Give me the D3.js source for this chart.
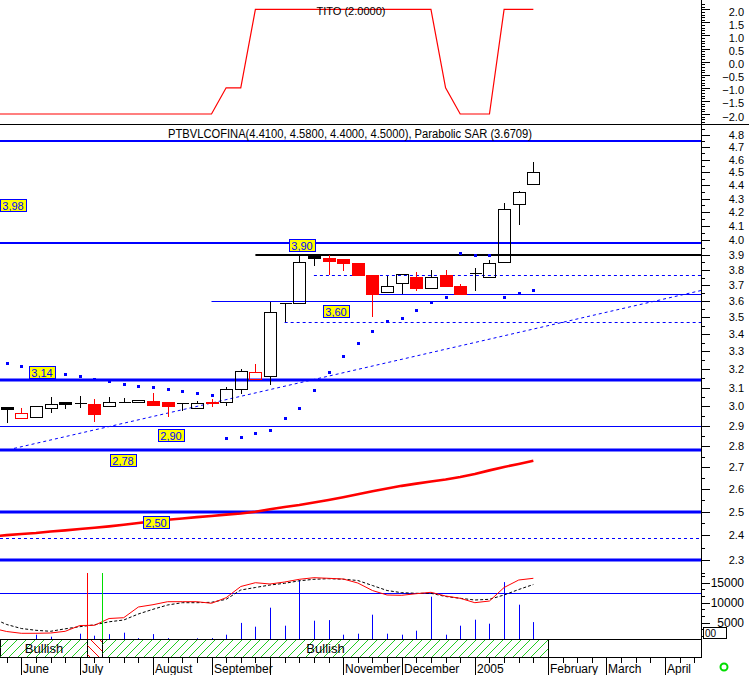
<!DOCTYPE html>
<html>
<head>
<meta charset="utf-8">
<script src="https://cdn.jsdelivr.net/npm/d3@7/dist/d3.min.js"></script>
<style>
body { margin: 0; background: #fff; }
svg { display: block; font-family: "Liberation Sans", Arial, sans-serif; }
</style>
</head>
<body>
<div id="chart"></div>
<script>
// weekly candles, week 0 = last week of May 2004
var opens  = [2.998, 2.939, 2.948, 2.991, 3.021, 3.017, 3.012, 3.001, 3.022, 3.022, 3.027, 3.022, 3.016, 2.991, 3.024, 3.022, 3.091, 3.146, 3.161, 3.589, 3.589, 3.891, 3.877, 3.873, 3.847, 3.767, 3.656, 3.713, 3.752, 3.681, 3.767, 3.696, 3.782, 3.752, 3.850, 4.257, 4.41];
var highs  = [2.998, 2.992, 3.001, 3.048, 3.021, 3.057, 3.039, 3.048, 3.045, 3.036, 3.070, 3.022, 3.016, 3.027, 3.038, 3.102, 3.200, 3.229, 3.597, 3.589, 3.904, 3.891, 3.900, 3.873, 3.847, 3.767, 3.763, 3.771, 3.785, 3.800, 3.800, 3.707, 3.815, 3.866, 4.269, 4.359, 4.58];
var lows   = [2.914, 2.939, 2.948, 2.968, 2.986, 2.991, 2.922, 3.001, 3.022, 3.022, 3.006, 2.944, 2.975, 2.986, 2.996, 3.003, 3.064, 3.146, 3.112, 3.471, 3.589, 3.828, 3.767, 3.795, 3.767, 3.505, 3.650, 3.645, 3.666, 3.681, 3.698, 3.645, 3.666, 3.752, 3.850, 4.107, 4.40];
var closes = [2.989, 2.968, 3.001, 3.012, 3.015, 3.017, 2.960, 3.022, 3.022, 3.036, 3.006, 3.003, 3.016, 3.020, 3.016, 3.091, 3.189, 3.185, 3.531, 3.589, 3.850, 3.877, 3.861, 3.848, 3.767, 3.643, 3.698, 3.771, 3.685, 3.752, 3.698, 3.645, 3.782, 3.844, 4.221, 4.349, 4.50];
var sar    = [3.233, 3.216, 3.200, 3.186, 3.172, 3.161, 3.148, 3.134, 3.119, 3.110, 3.102, 3.091, 3.080, 3.070, 3.059, 2.839, 2.846, 2.864, 2.881, 2.941, 2.991, 3.085, 3.185, 3.272, 3.347, 3.417, 3.477, 3.495, 3.543, 3.592, 3.624, 3.911, 3.900, 3.900, 3.628, 3.649, 3.671];
var volume = [500, 800, 1950, 1450, 800, 2200, 1700, 2100, 2450, 1100, 2100, 1100, 800, 1050, 1100, 1950, 4900, 3950, 8700, 4200, 15600, 5450, 5600, 1950, 2200, 6950, 2200, 1950, 2950, 11450, 1950, 4200, 5700, 4700, 15100, 9450, 5100];

// these start one week earlier (week -1)
var maLong  = [2.396, 2.401, 2.406, 2.410, 2.416, 2.421, 2.427, 2.432, 2.438, 2.445, 2.452, 2.459, 2.466, 2.471, 2.477, 2.482, 2.488, 2.493, 2.500, 2.511, 2.521, 2.530, 2.541, 2.552, 2.564, 2.577, 2.591, 2.603, 2.615, 2.625, 2.635, 2.644, 2.655, 2.669, 2.686, 2.702, 2.716, 2.731];
var volFast = [3600, 2750, 2300, 2300, 2375, 2800, 4250, 4300, 6000, 6200, 8875, 9450, 10200, 10200, 10200, 9800, 11200, 14000, 14950, 14625, 15125, 15800, 16200, 16050, 15875, 14875, 13000, 11875, 11800, 12200, 12550, 11625, 11050, 9950, 10375, 13750, 15625, 16050];
var volSlow = [6100, 4500, 3500, 3050, 2800, 3425, 3950, 4425, 5175, 5625, 7125, 8300, 9375, 9950, 9950, 10050, 10800, 13125, 13750, 14375, 14800, 15425, 15800, 15950, 15825, 15500, 14250, 13000, 12450, 12300, 12300, 11500, 11050, 10625, 10800, 11875, 13250, 14500];
var tito    = [-2, -2, -2, -2, -2, -2, -2, -2, -2, -2, -2, -2, -2, -2, -2, -2, -1, -1, 2, 2, 2, 2, 2, 2, 2, 2, 2, 2, 2, 2, 2, -1, -2, -2, -2, 2, 2, 2];
var volAvgLevel = 12300;

// horizontal price levels
var levelPrices = [4.75, 3.98, 3.90, 3.767, 3.643, 3.60, 3.471, 3.14, 2.90, 2.78, 2.50, 2.39, 2.30];
var levelStart  = [-1, -1, 17, 21, 25, 14, 19, -1, -1, -1, -1, -1, -1];
var levelKind   = ["thin2", "thin2", "black", "dash", "thin", "thin", "dash", "thick", "thin", "thick", "thick", "dash", "thick"];

// price tags
var tagText   = ["3,98", "3,90", "3,60", "3,14", "2,90", "2,78", "2,50"];
var tagWeek   = [0.43, 20.18, 22.51, 2.39, 11.25, 7.97, 10.2];
var tagPrice  = [4.25, 3.971, 3.542, 3.183, 2.857, 2.735, 2.457];

// trend line anchors
var trendWeek  = [0.5, 47.46];
var trendPrice = [2.79, 3.667];

// signal band
var signalFrom = [-1, 5.5, 6.5];
var signalTo   = [5.5, 6.5, 37];
var signalType = ["Bullish", "Bearish", "Bullish"];

// time axis
var monthNames = ["June", "July", "August", "September", "October", "November", "December", "2005", "February", "March", "April"];
var monthWeeks = [1, 5, 10, 14, 18, 23, 27, 32, 37, 41, 45];
var lastTickWeek = 47;

var W = 749, H = 675, plotR = 701;
var svg = d3.select("#chart").append("svg").attr("width", W).attr("height", H);
var defs = svg.append("defs");
defs.append("clipPath").attr("id", "plot").append("rect")
    .attr("x", 0).attr("y", 0).attr("width", plotR).attr("height", 657);

var gp = defs.append("pattern").attr("id", "hatchG").attr("patternUnits", "userSpaceOnUse")
    .attr("width", 9).attr("height", 9);
gp.append("path").attr("d", "M0,9L9,0M-3,3L3,-3M6,12L12,6").attr("stroke", "#22cc22").attr("stroke-width", 1);
var rp = defs.append("pattern").attr("id", "hatchR").attr("patternUnits", "userSpaceOnUse")
    .attr("width", 9).attr("height", 9);
rp.append("path").attr("d", "M0,0L9,9M-3,6L3,12M6,-3L12,3").attr("stroke", "#ff0000").attr("stroke-width", 1);

function px(v) { return Math.round(v) + 0.5; }

//
// Scales
//
var x = d3.scaleLinear().domain([-0.458, 47.46]).range([0, plotR]);
var yTop = d3.scaleLinear().domain([-2, 2]).range([114, 9.3]);
var y = d3.scaleLog().domain([2.2527, 4.892]).range([572, 124]);
var yVol = d3.scaleLinear().domain([0, 15000]).range([642.5, 582.5]);

var plot = svg.append("g").attr("clip-path", "url(#plot)");

// top panel: TITO
plot.append("path")
    .datum(tito)
    .attr("fill", "none").attr("stroke", "#ff0000").attr("stroke-width", 1.2)
    .attr("d", d3.line().x(function(d, k) { return x(k - 1); }).y(function(d) { return yTop(d); }));
svg.append("text").attr("x", 351).attr("y", 15).attr("text-anchor", "middle")
    .style("font-size", "11px").text("TITO (2.0000)");

svg.append("line").attr("x1", 0).attr("x2", W).attr("y1", 124.5).attr("y2", 124.5)
    .attr("stroke", "#000");

// price levels
levelPrices.forEach(function(p, k) {
    var kind = levelKind[k];
    var yy = y(p);
    var ln = plot.append("line")
        .attr("x1", Math.max(0, x(levelStart[k]))).attr("x2", plotR)
        .attr("stroke", kind == "black" ? "#000" : "#0000ff");
    if (kind == "thick") { ln.attr("stroke-width", 3).attr("y1", Math.round(yy)).attr("y2", Math.round(yy)); }
    else if (kind == "thin2" || kind == "black") { ln.attr("stroke-width", 2).attr("y1", Math.round(yy)).attr("y2", Math.round(yy)); }
    else { ln.attr("stroke-width", 1).attr("y1", px(yy)).attr("y2", px(yy)); }
    if (kind == "dash") ln.attr("stroke-dasharray", "3,3");
});

// trend line
plot.append("path")
    .datum(d3.zip(trendWeek, trendPrice))
    .attr("fill", "none").attr("stroke", "#0000ff").attr("stroke-dasharray", "3,3")
    .attr("d", d3.line().x(function(d) { return x(d[0]); }).y(function(d) { return y(d[1]); }));

// long moving average
plot.append("path")
    .datum(maLong)
    .attr("fill", "none").attr("stroke", "#ff0000").attr("stroke-width", 2.6)
    .attr("d", d3.line().x(function(d, k) { return x(k - 1); }).y(function(d) { return y(d); }));

// candles
var bw = 12;
opens.forEach(function(o, i) {
    var c = closes[i], h = highs[i], l = lows[i];
    var prev = i ? closes[i - 1] : c;
    var col = c >= prev ? "#000" : "#ff0000";
    var cx = px(x(i));
    var top = Math.round(y(Math.max(o, c))), bot = Math.round(y(Math.min(o, c)));
    var g = plot.append("g").attr("stroke", col).attr("shape-rendering", "crispEdges");
    g.append("line").attr("x1", cx).attr("x2", cx).attr("y1", y(h)).attr("y2", top);
    g.append("line").attr("x1", cx).attr("x2", cx).attr("y1", bot).attr("y2", y(l));
    if (bot - top < 1) {
        g.append("line").attr("x1", cx - bw / 2).attr("x2", cx + bw / 2)
            .attr("y1", top + 0.5).attr("y2", top + 0.5);
    } else {
        g.append("rect").attr("x", cx - bw / 2).attr("y", top + 0.5)
            .attr("width", bw).attr("height", bot - top)
            .attr("fill", c >= o ? "none" : col);
    }
});

// parabolic SAR
plot.selectAll(".sar").data(sar).enter().append("rect")
    .attr("x", function(d, i) { return Math.round(x(i)) - 1; })
    .attr("y", function(d) { return Math.round(y(d)) - 1; })
    .attr("width", 3).attr("height", 3).attr("fill", "#0000ff");

// price tags
tagText.forEach(function(t, k) {
    var cx = Math.round(x(tagWeek[k])), cy = Math.round(y(tagPrice[k]));
    svg.append("rect").attr("x", cx - 13 + 0.5).attr("y", cy - 6 + 0.5)
        .attr("width", 26).attr("height", 12)
        .attr("fill", "#ffff00").attr("stroke", "#0000ff");
    svg.append("text").attr("x", cx).attr("y", cy + 4.5).attr("text-anchor", "middle")
        .attr("fill", "#0000ff").style("font-size", "11px").text(t);
});

svg.append("text").attr("x", 350).attr("y", 138).attr("text-anchor", "middle")
    .attr("textLength", 364).attr("lengthAdjust", "spacingAndGlyphs")
    .style("font-size", "12px")
    .text("PTBVLCOFINA(4.4100, 4.5800, 4.4000, 4.5000), Parabolic SAR (3.6709)");

// volume panel
plot.append("line").attr("x1", 0).attr("x2", plotR)
    .attr("y1", px(yVol(volAvgLevel))).attr("y2", px(yVol(volAvgLevel))).attr("stroke", "#0000ff");
plot.selectAll(".vol").data(volume).enter().append("line")
    .attr("x1", function(d, i) { return px(x(i)); })
    .attr("x2", function(d, i) { return px(x(i)); })
    .attr("y1", 639).attr("y2", function(d) { return Math.min(639, yVol(d)); })
    .attr("stroke", "#0000ff");
plot.append("path").datum(volSlow)
    .attr("fill", "none").attr("stroke", "#000").attr("stroke-dasharray", "3,2")
    .attr("d", d3.line().x(function(d, k) { return x(k - 1); }).y(function(d) { return yVol(d); }));
plot.append("path").datum(volFast)
    .attr("fill", "none").attr("stroke", "#ff0000")
    .attr("d", d3.line().x(function(d, k) { return x(k - 1); }).y(function(d) { return yVol(d); }));

// signal markers
signalFrom.forEach(function(f, k) {
    if (k == 0) return;
    var sx = px(x(f));
    svg.append("line").attr("x1", sx).attr("x2", sx).attr("y1", 573).attr("y2", 639)
        .attr("stroke", signalType[k] == "Bearish" ? "#ff0000" : "#00dd00");
});

// signal band
var band = svg.append("g");
band.append("rect").attr("x", 0.5).attr("y", 639.5).attr("width", plotR).attr("height", 18)
    .attr("fill", "#fff").attr("stroke", "#000");
signalFrom.forEach(function(f, k) {
    var x0 = Math.max(0.5, px(x(f))), x1 = px(x(signalTo[k]));
    band.append("rect").attr("x", x0).attr("y", 640).attr("width", x1 - x0).attr("height", 17)
        .attr("fill", signalType[k] == "Bullish" ? "url(#hatchG)" : "url(#hatchR)");
    band.append("line").attr("x1", x1).attr("x2", x1).attr("y1", 639.5).attr("y2", 657.5)
        .attr("stroke", "#000");
    if (signalType[k] == "Bullish") {
        band.append("text").attr("x", (x0 + x1) / 2).attr("y", 653).attr("text-anchor", "middle")
            .style("font-size", "13px").text(signalType[k]);
    }
});
band.append("line").attr("x1", 0).attr("x2", plotR).attr("y1", 639.5).attr("y2", 639.5).attr("stroke", "#000");

// time axis
var ax = svg.append("g").attr("shape-rendering", "crispEdges");
ax.append("line").attr("x1", 0).attr("x2", plotR).attr("y1", 657.5).attr("y2", 657.5).attr("stroke", "#000");
d3.range(0, lastTickWeek + 1).forEach(function(w) {
    var major = monthWeeks.indexOf(w) >= 0;
    ax.append("line").attr("x1", px(x(w))).attr("x2", px(x(w)))
        .attr("y1", 657).attr("y2", major ? 675 : 663).attr("stroke", "#000");
});
var lastEnd = -100;
monthNames.forEach(function(m, k) {
    var lx = px(x(monthWeeks[k])) + 1.5;
    if (lx < lastEnd + 2) return;
    var t = ax.append("text").attr("x", lx).attr("y", 673).style("font-size", "12px").text(m);
    lastEnd = lx + t.node().getComputedTextLength();
});

// right axis
var ra = svg.append("g").attr("shape-rendering", "crispEdges");
ra.append("line").attr("x1", plotR + 0.5).attr("x2", plotR + 0.5).attr("y1", 0).attr("y2", 657)
    .attr("stroke", "#000");
function tick(yy, len) {
    ra.append("line").attr("x1", plotR).attr("x2", plotR + len)
        .attr("y1", px(yy)).attr("y2", px(yy)).attr("stroke", "#000");
}
function tickLabel(yy, txt, dy, size) {
    ra.append("text").attr("x", 744).attr("y", yy + dy).attr("text-anchor", "end")
        .style("font-size", size).text(txt);
}
d3.range(-23, 23).forEach(function(k) {
    var v = k / 10;
    var major = k % 5 == 0;
    tick(yTop(v), major ? 9 : 4);
    if (major && Math.abs(v) <= 2) tickLabel(yTop(v), d3.format(".1f")(v), 6.5, "11px");
});
d3.range(45, 98).forEach(function(k) {
    var v = k / 20;
    var major = k % 2 == 0;
    tick(y(v), major ? 9 : 4);
    if (major && v >= 2.3 && v <= 4.8) tickLabel(y(v), d3.format(".1f")(v), 4, "11px");
});
d3.range(1, 11).forEach(function(k) {
    var v = k * 5000 / 3;
    var major = k % 3 == 0;
    tick(yVol(v), major ? 9 : 4);
    if (major) tickLabel(yVol(v), v, 4.5, "12px");
});

// small legend box and status marker
svg.append("rect").attr("x", 703.5).attr("y", 627.5).attr("width", 23).attr("height", 11)
    .attr("fill", "#fff").attr("stroke", "#000");
svg.append("text").attr("x", 705).attr("y", 637).style("font-size", "10px").text("00");
svg.append("circle").attr("cx", 724).attr("cy", 667).attr("r", 3.5)
    .attr("fill", "none").attr("stroke", "#00dd00").attr("stroke-width", 2);
</script>
</body>
</html>
